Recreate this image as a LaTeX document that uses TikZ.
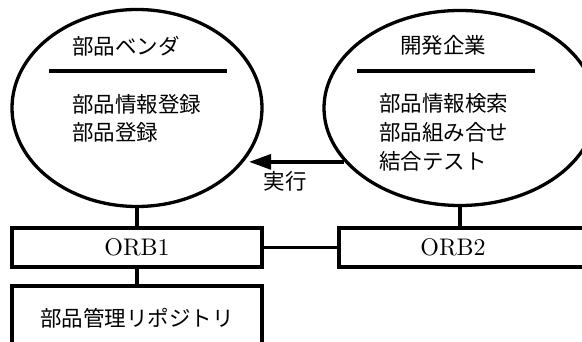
\documentclass[tikz,border=0pt]{standalone}
\usepackage{fontspec}
\newfontfamily\jp{Noto Sans CJK JP}
\newfontfamily\orbf{lmroman10-regular}[Extension=.otf]
\usetikzlibrary{shapes.geometric,arrows.meta,calc}
\begin{document}
\begin{tikzpicture}[x=1pt,y=1pt,
  ell/.style={draw, ellipse, line width=3.3pt, inner sep=0pt},
  boxnode/.style={draw, rectangle, line width=4pt, inner sep=0pt},
  jtext/.style={font=\jp\fontsize{21.5}{29}\selectfont, inner sep=0pt, text height=0.88em, text depth=0.12em},
  orbtext/.style={font=\orbf\fontsize{24}{27}\selectfont, inner sep=0pt},
  conn/.style={line width=3.3pt},
  divider/.style={line width=4pt},
  arrowconn/.style={line width=3.3pt, -{Triangle[length=22pt,width=15pt]}}
]
\useasboundingbox (0,0) rectangle (582,342);
\clip (0,0) rectangle (582,342);
% ellipses
\node[ell, minimum width=250pt, minimum height=197pt] (ellL) at (137,234) {};
\node[ell, minimum width=272pt, minimum height=195pt] (ellR) at (460,234) {};
% dividers
\draw[divider] (49,271) -- (227,271);
\draw[divider] (357,271) -- (535,271);
% texts in ellipses
\node[jtext, anchor=west] (vendT) at (72,291) {部品ベンダ};
\node[jtext, anchor=west] (vend1) at (72,233) {部品情報登録};
\node[jtext, anchor=west] (vend2) at (72,205) {部品登録};
\node[jtext, anchor=west] (devT) at (400,292) {開発企業};
\node[jtext, anchor=west] (dev1) at (379,234) {部品情報検索};
\node[jtext, anchor=west] (dev2) at (379,205) {部品組み合せ};
\node[jtext, anchor=west] (dev3) at (379,176) {結合テスト};
% boxes
\node[boxnode, minimum width=250pt, minimum height=39pt, orbtext] (orb1) at (137,94.5) {ORB1};
\node[boxnode, minimum width=261pt, minimum height=39pt] (orb2) at (469.5,94.5) {};
\node[orbtext] (orb2t) at (453,94.5) {ORB2};
\node[boxnode, minimum width=250pt, minimum height=74pt, jtext] (repo) at (137,19) {部品管理リポジトリ};
% connectors
\draw[conn] (ellL.south) -- (orb1.north);
\draw[conn] (ellR.south) -- (ellR.south |- orb2.north);
\draw[conn] (orb1.east) -- (orb2.west);
\draw[conn] (orb1.south) -- (repo.north);
\coordinate (tip) at ($(ellR.205 -| ellL.-25)+(3,0)$);
\draw[arrowconn] (ellR.205) -- (tip);
\node[jtext] (exec) at (285,156) {実行};
\end{tikzpicture}
\end{document}
